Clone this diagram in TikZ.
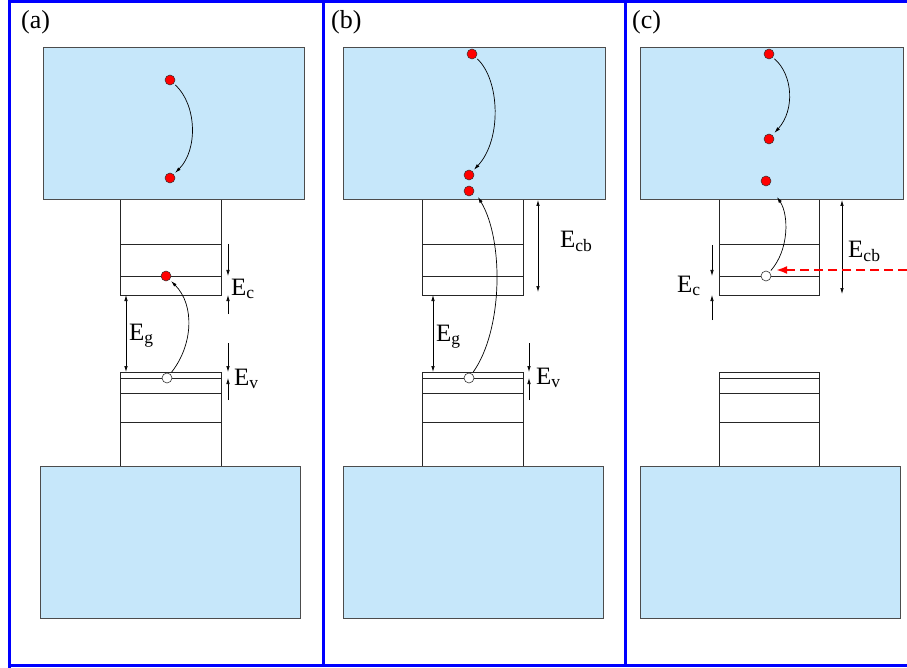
\documentclass[tikz,border=0pt]{standalone}
\usepackage{fontspec}
\setmainfont{Liberation Serif}
\usetikzlibrary{arrows.meta}
\definecolor{bandblue}{RGB}{198,231,250}
\definecolor{framebl}{RGB}{0,0,255}
\begin{document}
\begin{tikzpicture}[x=1pt,y=-1pt,
  band/.style={draw=black!70,fill=bandblue,line width=0.9pt},
  lvl/.style={draw=black!85,line width=0.8pt},
  frame/.style={draw=framebl,line width=3pt},
  elec/.style={circle,draw=black!80,fill=red,minimum size=10pt,inner sep=0pt,line width=0.5pt},
  hole/.style={circle,draw=black!80,fill=white,minimum size=10pt,inner sep=0pt,line width=0.6pt},
  tip/.style={-{Latex[length=6pt,width=3.5pt]},line width=0.7pt,black},
  dtip/.style={{Latex[length=6pt,width=3.5pt]}-{Latex[length=6pt,width=3.5pt]},line width=0.7pt,black},
  lab/.style={anchor=base west,inner sep=0pt,font=\fontsize{25}{27}\selectfont},
  plab/.style={anchor=base west,inner sep=0pt,font=\fontsize{26}{28}\selectfont},
  redarrow/.style={-{Latex[length=11pt,width=8pt]},draw=red,line width=2.6pt,dash pattern=on 9pt off 5pt}]
\useasboundingbox (0,0) rectangle (907,668);
% frame
\draw[frame] (9.5,1.5) -- (907,1.5);
\draw[frame] (9.5,665) -- (907,665);
\draw[frame] (9.5,0) -- (9.5,668);
\draw[frame] (323,0) -- (323,666);
\draw[frame] (625,0) -- (625,666);
\node[plab] (la) at (21,29) {(a)};
\node[plab] (lb) at (331,29) {(b)};
\node[plab] (lc) at (632,29) {(c)};
% ---------- panel (a) ----------
\draw[band] (43,47.5) rectangle (304,199.5);
\draw[band] (40,466) rectangle (300,618);
\draw[lvl] (120,200) -- (120,295) -- (221,295) -- (221,200);
\draw[lvl] (120,244) -- (221,244);
\draw[lvl] (120,276) -- (221,276);
\draw[lvl] (120,466) -- (120,372) -- (221,372) -- (221,466);
\draw[lvl] (120,378) -- (221,378);
\draw[lvl] (120,393) -- (221,393);
\draw[lvl] (120,422) -- (221,422);
\node[elec] (a1) at (170,80) {};
\node[elec] (a2) at (170,178) {};
\node[elec] (a3) at (166,276) {};
\node[hole] (ah) at (167,378) {};
\draw[tip,shorten <=2pt,shorten >=2pt] (a1) .. controls (197,105) and (198,150) .. (a2);
\draw[tip,shorten <=2pt,shorten >=2pt] (ah) .. controls (193,345) and (195,305) .. (a3);
\coordinate (aEc1) at (228,244);
\coordinate (aEc2) at (228,276);
\coordinate (aEc3) at (228,314);
\coordinate (aEc4) at (228,295);
\draw[tip] (aEc1) -- (aEc2);
\draw[tip] (aEc3) -- (aEc4);
\node[lab] (aEc) at (231,295) {E\textsubscript{c}};
\coordinate (aEg1) at (126,295);
\coordinate (aEg2) at (126,372);
\draw[dtip] (aEg1) -- (aEg2);
\node[lab] (aEg) at (129,340) {E\textsubscript{g}};
\coordinate (aEv1) at (228,343);
\coordinate (aEv2) at (228,372);
\coordinate (aEv3) at (228,400);
\coordinate (aEv4) at (228,378);
\draw[tip] (aEv1) -- (aEv2);
\draw[tip] (aEv3) -- (aEv4);
\node[lab] (aEv) at (234,385) {E\textsubscript{v}};
% ---------- panel (b) ----------
\draw[band] (343,47.5) rectangle (605,199.5);
\draw[band] (343,466) rectangle (603,618);
\draw[lvl] (422,200) -- (422,295) -- (523,295) -- (523,200);
\draw[lvl] (422,244) -- (523,244);
\draw[lvl] (422,276) -- (523,276);
\draw[lvl] (422,466) -- (422,372) -- (523,372) -- (523,466);
\draw[lvl] (422,378) -- (523,378);
\draw[lvl] (422,393) -- (523,393);
\draw[lvl] (422,422) -- (523,422);
\node[elec] (b1) at (472,54) {};
\node[elec] (b2) at (469,175) {};
\node[elec] (b3) at (469,191) {};
\node[hole] (bh) at (469,378) {};
\coordinate (bt) at (478,197);
\draw[tip,shorten <=2pt,shorten >=2pt] (b1) .. controls (500,80) and (502,140) .. (b2);
\draw[tip,shorten <=2pt] (bh) .. controls (503,330) and (504,240) .. (bt);
\coordinate (bEcb1) at (538,200);
\coordinate (bEcb2) at (538,292);
\draw[dtip] (bEcb1) -- (bEcb2);
\node[lab] (bEcb) at (560,248) {E\textsubscript{cb}};
\coordinate (bEg1) at (433,295);
\coordinate (bEg2) at (433,372);
\draw[dtip] (bEg1) -- (bEg2);
\node[lab] (bEg) at (436,341) {E\textsubscript{g}};
\coordinate (bEv1) at (529,343);
\coordinate (bEv2) at (529,372);
\coordinate (bEv3) at (529,400);
\coordinate (bEv4) at (529,378);
\draw[tip] (bEv1) -- (bEv2);
\draw[tip] (bEv3) -- (bEv4);
\node[lab] (bEv) at (536,384) {E\textsubscript{v}};
% ---------- panel (c) ----------
\draw[band] (640,47.5) rectangle (903,199.5);
\draw[band] (640,466) rectangle (900,618);
\draw[lvl] (719,200) -- (719,295) -- (819,295) -- (819,200);
\draw[lvl] (719,244) -- (819,244);
\draw[lvl] (719,276) -- (819,276);
\draw[lvl] (719,466) -- (719,372) -- (819,372) -- (819,466);
\draw[lvl] (719,378) -- (819,378);
\draw[lvl] (719,393) -- (819,393);
\draw[lvl] (719,422) -- (819,422);
\node[elec] (c1) at (769,54) {};
\node[elec] (c2) at (769,139) {};
\node[elec] (c3) at (766,181) {};
\node[hole] (ch) at (766,276) {};
\coordinate (ct) at (777,197);
\draw[tip,shorten <=2pt,shorten >=3pt] (c1) .. controls (793,75) and (795,110) .. (c2);
\draw[tip,shorten <=2pt] (ch) .. controls (789,250) and (789,215) .. (ct);
\coordinate (cEcb1) at (842,200);
\coordinate (cEcb2) at (842,294);
\draw[dtip] (cEcb1) -- (cEcb2);
\node[lab] (cEcb) at (848,258) {E\textsubscript{cb}};
\coordinate (cEc1) at (712,245);
\coordinate (cEc2) at (712,276);
\coordinate (cEc3) at (712,320);
\coordinate (cEc4) at (712,295);
\draw[tip] (cEc1) -- (cEc2);
\draw[tip] (cEc3) -- (cEc4);
\node[lab] (cEc) at (677,292) {E\textsubscript{c}};
\coordinate (rs) at (907,270);
\coordinate (re) at (776,270);
\draw[redarrow] (rs) -- (re);
\end{tikzpicture}
\end{document}
